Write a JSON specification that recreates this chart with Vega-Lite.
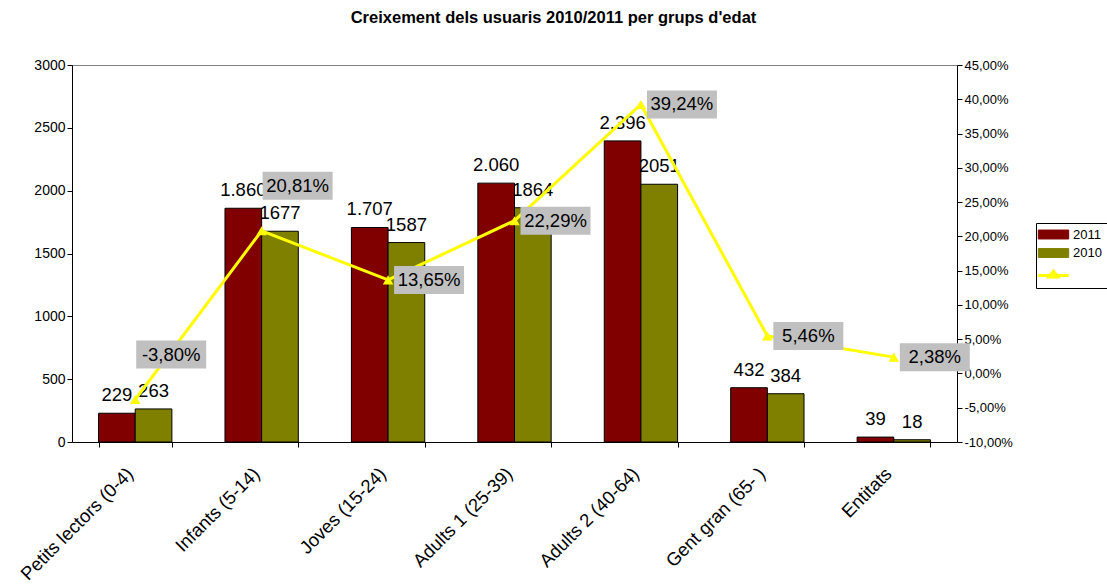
{
  "$schema": "https://vega.github.io/schema/vega-lite/v6.json",
  "autosize": {"type": "none"},
  "padding": {"left": 72, "top": 65, "right": 150, "bottom": 143},
  "width": 885,
  "height": 377,
  "background": "white",
  "config": {
    "font": "Liberation Sans",
    "view": {"stroke": "#808080", "strokeWidth": 1},
    "locale": {"number": {"decimal": ",", "thousands": ".", "grouping": [3], "currency": ["", "€"], "minus": "-"}},
    "axis": {"domainColor": "black", "tickColor": "black", "labelColor": "black", "grid": false, "labelFont": "Liberation Sans"}
  },
  "title": {
    "text": "Creixement dels usuaris 2010/2011 per grups d'edat",
    "font": "Liberation Sans",
    "fontSize": 16.5,
    "fontWeight": "bold",
    "color": "black",
    "anchor": "middle",
    "frame": "group",
    "dx": 39,
    "offset": 32
  },
  "datasets": {
    "bars": [
      {"cat": "Petits lectors (0-4)", "year": "2011", "value": 229},
      {"cat": "Petits lectors (0-4)", "year": "2010", "value": 263},
      {"cat": "Infants (5-14)", "year": "2011", "value": 1860},
      {"cat": "Infants (5-14)", "year": "2010", "value": 1677},
      {"cat": "Joves (15-24)", "year": "2011", "value": 1707},
      {"cat": "Joves (15-24)", "year": "2010", "value": 1587},
      {"cat": "Adults 1 (25-39)", "year": "2011", "value": 2060},
      {"cat": "Adults 1 (25-39)", "year": "2010", "value": 1864},
      {"cat": "Adults 2 (40-64)", "year": "2011", "value": 2396},
      {"cat": "Adults 2 (40-64)", "year": "2010", "value": 2051},
      {"cat": "Gent gran (65- )", "year": "2011", "value": 432},
      {"cat": "Gent gran (65- )", "year": "2010", "value": 384},
      {"cat": "Entitats", "year": "2011", "value": 39},
      {"cat": "Entitats", "year": "2010", "value": 18}
    ],
    "pct": [
      {"cat": "Petits lectors (0-4)", "pct": -0.038},
      {"cat": "Infants (5-14)", "pct": 0.2081},
      {"cat": "Joves (15-24)", "pct": 0.1365},
      {"cat": "Adults 1 (25-39)", "pct": 0.2229},
      {"cat": "Adults 2 (40-64)", "pct": 0.3924},
      {"cat": "Gent gran (65- )", "pct": 0.0546},
      {"cat": "Entitats", "pct": 0.0238}
    ]
  },
  "encoding": {
    "x": {
      "field": "cat", "type": "nominal", "sort": null,
      "scale": {"paddingInner": 0.42, "paddingOuter": 0.21},
      "axis": {"title": null, "labelAngle": -45, "labelAlign": "right", "labelBaseline": "top", "labelFontSize": 18.5, "tickBand": "extent", "tickSize": 5, "labelPadding": 17, "labelOffset": -12}
    },
    "color": {
      "field": "year", "type": "nominal",
      "scale": {"domain": ["2011", "2010", " "], "range": ["#800000", "#808000", "#ffff00"]},
      "legend": {
        "title": null,
        "orient": "none",
        "legendX": 964,
        "legendY": 158,
        "strokeColor": "black",
        "fillColor": "white",
        "padding": 5,
        "symbolSize": 361,
        "symbolOffset": 6,
        "labelOffset": 13,
        "labelFontSize": 13,
        "labelColor": "black",
        "rowPadding": 4.5,
        "symbolOpacity": 1,
        "encode": {
          "symbols": {
            "update": {
              "shape": {"signal": "datum.value === ' ' ? 'M-1.6,0H1.6M-0.45,0.15L0,-0.45L0.45,0.15Z' : 'M-1.6,-0.47H1.6V0.47H-1.6Z'"},
              "fill": {"signal": "scale('color', datum.value)"},
              "stroke": {"signal": "datum.value === ' ' ? '#ffff00' : 'black'"},
              "strokeWidth": {"signal": "datum.value === ' ' ? 3 : 1"},
              "opacity": {"value": 1},
              "fillOpacity": {"value": 1}
            }
          }
        }
      }
    }
  },
  "layer": [
    {
      "data": {"name": "bars"},
      "encoding": {
        "xOffset": {"field": "year", "type": "nominal", "sort": ["2011", "2010"], "scale": {"domain": ["2011", "2010"], "paddingInner": 0, "paddingOuter": 0}},
        "y": {
          "field": "value", "type": "quantitative",
          "scale": {"domain": [0, 3000], "nice": false},
          "axis": {"title": null, "values": [0, 500, 1000, 1500, 2000, 2500, 3000], "format": "d", "labelFontSize": 14, "tickSize": 5}
        }
      },
      "layer": [
        {"mark": {"type": "bar", "stroke": "black", "strokeWidth": 1, "opacity": 1}},
        {
          "transform": [{"filter": "datum.year === '2011'"}],
          "mark": {"type": "text", "baseline": "bottom", "dy": -8, "fontSize": 18.5},
          "encoding": {"text": {"field": "value", "type": "quantitative", "format": ",d"}, "color": {"value": "black"}}
        },
        {
          "transform": [{"filter": "datum.year === '2010'"}],
          "mark": {"type": "text", "baseline": "bottom", "dy": -8, "fontSize": 18.5},
          "encoding": {"text": {"field": "value", "type": "quantitative", "format": "d"}, "color": {"value": "black"}}
        }
      ]
    },
    {
      "data": {"name": "pct"},
      "encoding": {
        "y": {
          "field": "pct", "type": "quantitative",
          "scale": {"domain": [-0.1, 0.45], "nice": false, "zero": false},
          "axis": {"title": null, "orient": "right", "values": [-0.1, -0.05, 0, 0.05, 0.1, 0.15, 0.2, 0.25, 0.3, 0.35, 0.4, 0.45], "format": ".2%", "labelFontSize": 13, "tickSize": 5}
        }
      },
      "layer": [
        {"mark": {"type": "line", "strokeWidth": 3}, "encoding": {"color": {"datum": " "}}},
        {"mark": {"type": "point", "shape": "triangle-up", "size": 110, "filled": true, "opacity": 1}, "encoding": {"color": {"datum": " "}}},
        {
          "transform": [{"filter": "datum.pct < 0 || (datum.pct > 0.2 && datum.pct < 0.21)"}],
          "layer": [
            {"mark": {"type": "point", "shape": "M-1,-0.4H1V0.4H-1Z", "size": 4900, "filled": true, "opacity": 1, "xOffset": 36, "yOffset": -45}, "encoding": {"color": {"value": "#c0c0c0"}}},
            {"mark": {"type": "text", "fontSize": 18.5, "dx": 36, "dy": -45, "baseline": "middle"}, "encoding": {"text": {"field": "pct", "type": "quantitative", "format": ".2%"}, "color": {"value": "black"}}}
          ]
        },
        {
          "transform": [{"filter": "!(datum.pct < 0 || (datum.pct > 0.2 && datum.pct < 0.21))"}],
          "layer": [
            {"mark": {"type": "point", "shape": "M-1,-0.4H1V0.4H-1Z", "size": 4900, "filled": true, "opacity": 1, "xOffset": 41, "yOffset": 0}, "encoding": {"color": {"value": "#c0c0c0"}}},
            {"mark": {"type": "text", "fontSize": 18.5, "dx": 41, "dy": 0, "baseline": "middle"}, "encoding": {"text": {"field": "pct", "type": "quantitative", "format": ".2%"}, "color": {"value": "black"}}}
          ]
        }
      ]
    }
  ],
  "resolve": {"scale": {"y": "independent"}}
}
